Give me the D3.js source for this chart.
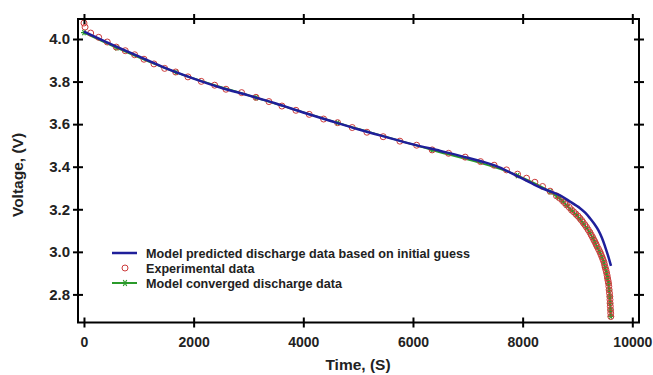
<!DOCTYPE html>
<html>
<head>
<meta charset="utf-8">
<script src="https://cdn.jsdelivr.net/npm/d3@7"></script>
<style>
  body { margin: 0; background: #fff; }
  text { font-family: "Liberation Sans", Arial, sans-serif; font-weight: bold; }
</style>
</head>
<body>
<div id="chart"></div>
<script>
// experimental data (time s, voltage V)
var expTime = [0, 20, 122, 268, 425, 589, 753, 924, 1094, 1276, 1471, 1672, 1896, 2139, 2383, 2589,
  2875, 3136, 3373, 3610, 3865, 4108, 4370, 4625, 4892, 5160, 5457, 5761, 6066, 6350, 6649,
  6952, 7232, 7480, 7706, 7907, 8071, 8223, 8363, 8500, 8618, 8680, 8727, 8765, 8800, 8850, 8891,
  8930, 8970, 9010, 9043, 9075, 9103, 9135, 9165, 9195, 9225, 9250, 9274, 9295, 9316, 9338, 9358,
  9383, 9407, 9425, 9444, 9462, 9480, 9492, 9504, 9517, 9530, 9540, 9548, 9557, 9566, 9572, 9577,
  9584, 9590, 9593, 9595, 9599, 9603, 9606, 9608];
var expVolt = [4.075, 4.056, 4.028, 4.008, 3.986, 3.962, 3.945, 3.926, 3.905, 3.883, 3.862, 3.845, 3.822, 3.801, 3.783, 3.764,
  3.748, 3.726, 3.706, 3.685, 3.665, 3.646, 3.624, 3.607, 3.584, 3.562, 3.541, 3.520, 3.501, 3.479, 3.463,
  3.445, 3.424, 3.407, 3.385, 3.365, 3.346, 3.327, 3.307, 3.285, 3.263, 3.252, 3.241, 3.231, 3.221, 3.209, 3.197,
  3.188, 3.178, 3.168, 3.158, 3.148, 3.138, 3.127, 3.116, 3.104, 3.092, 3.080, 3.069, 3.058, 3.048, 3.036, 3.025,
  3.013, 3.001, 2.990, 2.978, 2.966, 2.954, 2.941, 2.928, 2.916, 2.903, 2.890, 2.877, 2.865, 2.853, 2.838, 2.822,
  2.806, 2.790, 2.775, 2.759, 2.744, 2.728, 2.712, 2.696];

// model prediction with initial guess
var guessTime = [0, 500, 1000, 1500, 2000, 2500, 3000, 3500, 4000, 4500, 5000, 5500, 6000, 6500, 7000,
  7500, 7952, 8317, 8682, 8864, 9046, 9140, 9228, 9305, 9380, 9445, 9502, 9560, 9611];
var guessVolt = [4.035, 3.975, 3.918, 3.862, 3.814, 3.771, 3.735, 3.697, 3.655, 3.615, 3.576, 3.540, 3.505, 3.474, 3.442,
  3.405, 3.350, 3.303, 3.265, 3.236, 3.205, 3.184, 3.158, 3.132, 3.102, 3.066, 3.026, 2.980, 2.934];

// model converged
var convTime = [0, 600, 1680, 3140, 4625, 6350, 7907, 8500, 8650, 8730, 8800, 8890, 8970, 9043, 9103, 9165,
  9225, 9274, 9316, 9358, 9407, 9444, 9480, 9504, 9530, 9548, 9566, 9577, 9590, 9595, 9603, 9608];
var convVolt = [4.030, 3.958, 3.843, 3.724, 3.606, 3.478, 3.358, 3.282, 3.255, 3.238, 3.218, 3.195, 3.175, 3.155, 3.135, 3.113,
  3.090, 3.067, 3.046, 3.023, 3.000, 2.976, 2.952, 2.926, 2.901, 2.876, 2.851, 2.820, 2.789, 2.758, 2.727, 2.697];

var xTicks = [0, 2000, 4000, 6000, 8000, 10000];
var yTicks = [2.8, 3.0, 3.2, 3.4, 3.6, 3.8, 4.0];
var legendLabels = ["Model predicted discharge data based on initial guess",
  "Experimental data", "Model converged discharge data"];

var W = 653, H = 375;
var pLeft = 78, pRight = 639, pTop = 19, pBottom = 322.5;

var svg = d3.select("#chart").append("svg")
  .attr("width", W).attr("height", H);

var x = d3.scaleLinear().domain([-109, 10122]).range([pLeft, pRight]);
var y = d3.scaleLinear().domain([2.668, 4.094]).range([pBottom, pTop]);

var blue = "#1f1f9a", red = "#cc3b3b", green = "#2a9a2a";

var line = d3.line()
  .x(function(d) { return x(d[0]); })
  .y(function(d) { return y(d[1]); })
  .curve(d3.curveMonotoneX);

var conv = convTime.map(function(t, i) { return [t, convVolt[i]]; });
var guess = guessTime.map(function(t, i) { return [t, guessVolt[i]]; });
var exp = expTime.map(function(t, i) { return [t, expVolt[i]]; });

// converged line + asterisks
svg.append("path").attr("d", line(conv))
  .attr("fill", "none").attr("stroke", green).attr("stroke-width", 2);

function star(sel, cx, cy, r) {
  var g = sel.append("g").attr("transform", "translate(" + cx + "," + cy + ")")
    .attr("stroke", green).attr("stroke-width", 1.2);
  [0, 60, 120].forEach(function(a) {
    var rad = a * Math.PI / 180;
    g.append("line")
      .attr("x1", -r * Math.cos(rad)).attr("y1", -r * Math.sin(rad))
      .attr("x2", r * Math.cos(rad)).attr("y2", r * Math.sin(rad));
  });
}
conv.forEach(function(d) { star(svg, x(d[0]), y(d[1]), 3); });

// experimental circles
svg.append("g").selectAll("circle")
  .data(exp)
  .enter().append("circle")
  .attr("cx", function(d) { return x(d[0]); })
  .attr("cy", function(d) { return y(d[1]); })
  .attr("r", 3)
  .attr("fill", "none")
  .attr("stroke", red)
  .attr("stroke-width", 1);

// initial guess line
svg.append("path").attr("d", line.curve(d3.curveCatmullRom)(guess))
  .attr("fill", "none").attr("stroke", blue).attr("stroke-width", 2.5);

// axes: ticks cross the frame
function crossTicks(g, horiz) {
  g.select(".domain").remove();
  g.selectAll(".tick line").attr("stroke", "#000").attr("stroke-width", 2);
  if (horiz) g.selectAll(".tick line").attr("y1", -5).attr("y2", 5);
  else g.selectAll(".tick line").attr("x1", -5).attr("x2", 5);
}

svg.append("g").attr("transform", "translate(0," + pBottom + ")")
  .call(d3.axisBottom(x).tickValues(xTicks).tickFormat(d3.format("d")).tickSize(5).tickPadding(10))
  .call(function(g) { crossTicks(g, true); })
  .selectAll("text").attr("font-size", 14).attr("fill", "#222");

svg.append("g").attr("transform", "translate(0," + pTop + ")")
  .call(d3.axisTop(x).tickValues(xTicks).tickFormat(""))
  .call(function(g) { crossTicks(g, true); });

svg.append("g").attr("transform", "translate(" + pLeft + ",0)")
  .call(d3.axisLeft(y).tickValues(yTicks).tickFormat(d3.format(".1f")).tickSize(5).tickPadding(3))
  .call(function(g) { crossTicks(g, false); })
  .selectAll("text").attr("font-size", 15).attr("fill", "#222");

svg.append("g").attr("transform", "translate(" + pRight + ",0)")
  .call(d3.axisRight(y).tickValues(yTicks).tickFormat(""))
  .call(function(g) { crossTicks(g, false); });

svg.append("rect")
  .attr("x", pLeft).attr("y", pTop)
  .attr("width", pRight - pLeft).attr("height", pBottom - pTop)
  .attr("fill", "none").attr("stroke", "#000").attr("stroke-width", 2);

// axis titles
svg.append("text").attr("x", 358).attr("y", 370)
  .attr("text-anchor", "middle").attr("font-size", 15.5).attr("fill", "#222")
  .text("Time, (S)");
svg.append("text")
  .attr("transform", "translate(23,175) rotate(-90)")
  .attr("text-anchor", "middle").attr("font-size", 15.5).attr("fill", "#222")
  .text("Voltage, (V)");

// legend
var lg = svg.append("g");
var rows = [253, 268, 283];
lg.append("line").attr("x1", 112).attr("x2", 137).attr("y1", rows[0]).attr("y2", rows[0])
  .attr("stroke", blue).attr("stroke-width", 2.5);
lg.append("circle").attr("cx", 125).attr("cy", rows[1]).attr("r", 3)
  .attr("fill", "none").attr("stroke", red);
lg.append("line").attr("x1", 112).attr("x2", 137).attr("y1", rows[2]).attr("y2", rows[2])
  .attr("stroke", green).attr("stroke-width", 2);
star(lg, 125, rows[2], 3.5);
lg.selectAll("text.leg").data(legendLabels)
  .enter().append("text")
  .attr("class", "leg")
  .attr("x", 146)
  .attr("y", function(d, i) { return rows[i] + 4.5; })
  .attr("font-size", 12.6).attr("fill", "#222")
  .text(function(d) { return d; });
</script>
</body>
</html>
